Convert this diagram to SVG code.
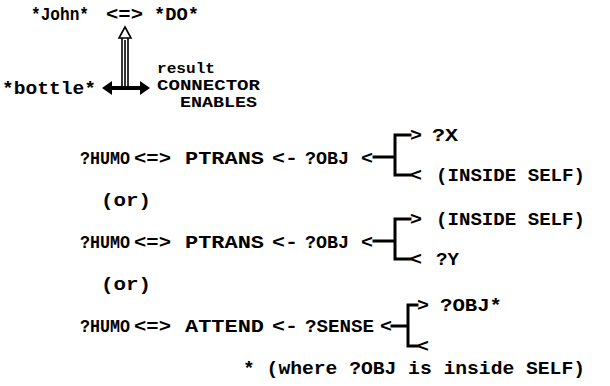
<svg xmlns="http://www.w3.org/2000/svg" width="610" height="386" viewBox="0 0 610 386">
<style>
text{font-family:"Liberation Mono","DejaVu Sans Mono",monospace;font-weight:bold;font-size:19px;fill:#000}
.sm{font-size:15px}
.ln{stroke:#000;stroke-width:3;fill:none;stroke-linecap:square}
.thin{stroke:#000;stroke-width:1.6;fill:none}
</style>
<rect width="610" height="386" fill="#fff"/>
<g id="top">
<text x="31" y="20" textLength="58" lengthAdjust="spacingAndGlyphs">*John*</text>
<text x="106" y="20" textLength="37" lengthAdjust="spacingAndGlyphs">&lt;=&gt;</text>
<text x="154" y="20" textLength="45" lengthAdjust="spacingAndGlyphs">*DO*</text>
<text x="2" y="94" textLength="94" lengthAdjust="spacingAndGlyphs">*bottle*</text>
<text class="sm" x="157" y="73" textLength="58" lengthAdjust="spacingAndGlyphs">result</text>
<text class="sm" x="157" y="90" textLength="103" lengthAdjust="spacingAndGlyphs">CONNECTOR</text>
<text class="sm" x="180" y="107" textLength="77" lengthAdjust="spacingAndGlyphs">ENABLES</text>
</g>
<g id="connectors">
<path class="thin" d="M125 27 L119 38 L131 38 Z M122 38 V86 M128 38 V86 M125 40 V86"/>
<polygon points="102,88 112,81 112,86 140,86 140,81 150,88 140,95 140,90 112,90 112,95" fill="#000"/>
<path class="ln" d="M374 157 H395 M395 135 V175 M395 135 H410 M395 175 H410"/>
<path class="ln" d="M374 241 H395 M395 219 V259 M395 219 H410 M395 259 H410"/>
<path class="ln" d="M392 326 H408 M408 305 V346 M408 305 H417 M408 346 H417"/>
</g>
<g id="line1">
<text x="80" y="164" textLength="50" lengthAdjust="spacingAndGlyphs">?HUMO</text>
<text x="134" y="164" textLength="37" lengthAdjust="spacingAndGlyphs">&lt;=&gt;</text>
<text x="185" y="164" textLength="79" lengthAdjust="spacingAndGlyphs">PTRANS</text>
<text x="272" y="164" textLength="26" lengthAdjust="spacingAndGlyphs">&lt;-</text>
<text x="305" y="164" textLength="44" lengthAdjust="spacingAndGlyphs">?OBJ</text>
<text x="361" y="164" textLength="12" lengthAdjust="spacingAndGlyphs">&lt;</text>
<text x="410" y="141" textLength="12" lengthAdjust="spacingAndGlyphs">&gt;</text>
<text x="432" y="141" textLength="26" lengthAdjust="spacingAndGlyphs">?X</text>
<text x="410" y="181" textLength="12" lengthAdjust="spacingAndGlyphs">&lt;</text>
<text x="436" y="181" textLength="149" lengthAdjust="spacingAndGlyphs">(INSIDE SELF)</text>
</g>
<text id="or1" x="101" y="206" textLength="50" lengthAdjust="spacingAndGlyphs">(or)</text>
<g id="line2">
<text x="80" y="248" textLength="50" lengthAdjust="spacingAndGlyphs">?HUMO</text>
<text x="134" y="248" textLength="37" lengthAdjust="spacingAndGlyphs">&lt;=&gt;</text>
<text x="185" y="248" textLength="79" lengthAdjust="spacingAndGlyphs">PTRANS</text>
<text x="272" y="248" textLength="26" lengthAdjust="spacingAndGlyphs">&lt;-</text>
<text x="305" y="248" textLength="44" lengthAdjust="spacingAndGlyphs">?OBJ</text>
<text x="361" y="248" textLength="12" lengthAdjust="spacingAndGlyphs">&lt;</text>
<text x="410" y="225" textLength="12" lengthAdjust="spacingAndGlyphs">&gt;</text>
<text x="436" y="225" textLength="149" lengthAdjust="spacingAndGlyphs">(INSIDE SELF)</text>
<text x="410" y="265" textLength="12" lengthAdjust="spacingAndGlyphs">&lt;</text>
<text x="436" y="265" textLength="23" lengthAdjust="spacingAndGlyphs">?Y</text>
</g>
<text id="or2" x="101" y="290" textLength="50" lengthAdjust="spacingAndGlyphs">(or)</text>
<g id="line3">
<text x="80" y="332" textLength="50" lengthAdjust="spacingAndGlyphs">?HUMO</text>
<text x="134" y="332" textLength="37" lengthAdjust="spacingAndGlyphs">&lt;=&gt;</text>
<text x="185" y="332" textLength="79" lengthAdjust="spacingAndGlyphs">ATTEND</text>
<text x="272" y="332" textLength="26" lengthAdjust="spacingAndGlyphs">&lt;-</text>
<text x="305" y="332" textLength="69" lengthAdjust="spacingAndGlyphs">?SENSE</text>
<text x="380" y="332" textLength="12" lengthAdjust="spacingAndGlyphs">&lt;</text>
<text x="417" y="311" textLength="12" lengthAdjust="spacingAndGlyphs">&gt;</text>
<text x="440" y="311" textLength="62" lengthAdjust="spacingAndGlyphs">?OBJ*</text>
<text x="417" y="352" textLength="12" lengthAdjust="spacingAndGlyphs">&lt;</text>
</g>
<text id="note" x="243" y="374" textLength="342" lengthAdjust="spacingAndGlyphs">* (where ?OBJ is inside SELF)</text>
</svg>
